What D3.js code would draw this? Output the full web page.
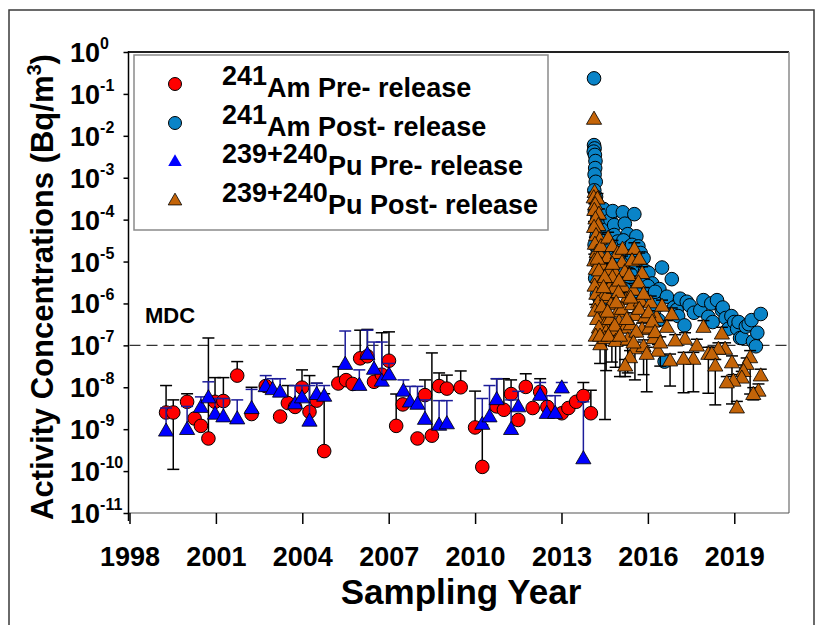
<!DOCTYPE html>
<html>
<head>
<meta charset="utf-8">
<script src="https://cdn.jsdelivr.net/npm/d3@7"></script>
<style>
  body { margin: 0; background: #fff; }
  svg text { font-family: "Liberation Sans", Arial, Helvetica, sans-serif; font-weight: bold; fill: #000; }
</style>
</head>
<body>
<svg id="chart" width="821" height="625"></svg>
<script>
// ---- data -------------------------------------------------------------
const yearTicks = [1998, 2001, 2004, 2007, 2010, 2013, 2016, 2019];
const decadeExponents = [0, -1, -2, -3, -4, -5, -6, -7, -8, -9, -10, -11];
const mdcValue = 1e-7;
const mdcLabel = "MDC";

const legendIsotopes = ["241", "241", "239+240", "239+240"];
const legendLabels = ["Am Pre- release", "Am Post- release", "Pu Pre- release", "Pu Post- release"];

// rows: [sampling year, activity (Bq/m3), lower error limit, upper error limit]
const amPre = [
  [1999.27, 2.5e-9, null, 1.1e-8],
  [1999.52, 2.5e-9, 1.1e-10, 5.0e-9],
  [2000.00, 4.5e-9, null, 7.0e-9],
  [2000.26, 1.8e-9, null, null],
  [2000.48, 1.2e-9, null, null],
  [2000.74, 6.0e-10, null, 1.5e-7],
  [2000.97, 4.5e-9, null, 1.7e-8],
  [2001.26, 4.7e-9, null, 1.7e-8],
  [2001.74, 1.9e-8, null, 4.1e-8],
  [2002.24, 2.3e-9, null, 1.0e-8],
  [2002.73, 1.07e-8, null, 1.25e-8],
  [2003.23, 2.0e-9, null, null],
  [2003.50, 4.2e-9, null, 1.1e-8],
  [2003.75, 3.4e-9, null, null],
  [2003.99, 9.8e-9, null, 2.6e-8],
  [2004.25, 2.6e-9, null, 1.9e-8],
  [2004.50, 4.8e-9, null, 1.25e-8],
  [2004.76, 3.0e-10, null, 7.0e-9],
  [2005.25, 1.23e-8, null, 3.1e-8],
  [2005.52, 1.48e-8, null, null],
  [2005.75, 1.2e-8, null, null],
  [2006.01, 4.9e-8, null, 2.3e-7],
  [2006.26, 5.5e-8, null, 2.4e-7],
  [2006.49, 1.35e-8, null, null],
  [2006.76, 2.0e-8, null, 2.0e-7],
  [2007.01, 4.3e-8, null, 2.1e-7],
  [2007.26, 1.2e-9, null, 6.9e-9],
  [2007.49, 3.9e-9, null, null],
  [2008.00, 6.0e-10, null, null],
  [2008.26, 6.5e-9, null, 1.5e-8],
  [2008.50, 7.0e-10, null, 6.6e-8],
  [2008.75, 1.07e-8, null, 2.2e-8],
  [2009.02, 9.3e-9, null, 1.95e-8],
  [2009.50, 1.0e-8, null, 2.45e-8],
  [2010.00, 1.1e-9, null, 8.1e-9],
  [2010.25, 1.26e-10, null, 1.26e-9],
  [2010.75, 3.5e-9, null, 1.6e-8],
  [2011.00, 2.9e-9, null, 1.6e-8],
  [2011.25, 6.9e-9, null, 1.5e-8],
  [2011.50, 1.66e-9, null, null],
  [2011.76, 1.02e-8, null, 2.1e-8],
  [2012.00, 3.2e-9, null, null],
  [2012.26, 7.8e-9, null, 1.6e-8],
  [2012.51, 3.4e-9, null, null],
  [2013.01, 2.4e-9, null, null],
  [2013.24, 3.2e-9, null, null],
  [2013.51, 4.5e-9, null, null],
  [2013.76, 6.2e-9, null, 1.3e-8],
  [2014.02, 2.4e-9, null, 8.5e-9]
];

const amPost = [
  [2014.13, 0.235, null, null],
  [2014.13, 6.0e-3, null, null],
  [2014.15, 5.0e-3, null, null],
  [2014.12, 4.2e-3, null, null],
  [2014.16, 3.5e-3, null, null],
  [2014.18, 2.5e-3, null, null],
  [2014.17, 1.7e-3, null, null],
  [2014.15, 1.2e-3, null, null],
  [2014.19, 8.0e-4, null, null],
  [2014.14, 5.0e-4, null, null],
  [2014.20, 3.5e-4, null, null],
  [2014.22, 2.5e-4, null, null],
  [2014.16, 1.6e-4, null, null],
  [2014.24, 1.0e-4, null, null],
  [2014.18, 6.0e-5, null, null],
  [2014.22, 4.0e-5, null, null],
  [2014.15, 2.5e-5, null, null],
  [2014.26, 1.6e-5, null, null],
  [2014.20, 1.0e-5, null, null],
  [2014.28, 6.0e-6, null, null],
  [2014.17, 4.0e-6, null, null],
  [2014.30, 2.5e-6, null, null],
  [2014.23, 1.6e-6, null, null],
  [2014.34, 1.0e-6, null, null],
  [2014.35, 1.2e-4, null, null],
  [2014.38, 1.5e-5, null, null],
  [2014.46, 1.8e-4, null, null],
  [2014.40, 8.0e-5, null, null],
  [2014.50, 4.0e-5, null, null],
  [2014.45, 2.0e-5, null, null],
  [2014.55, 1.0e-5, null, null],
  [2014.42, 5.0e-6, null, null],
  [2014.50, 1.5e-6, null, null],
  [2014.60, 3.0e-6, null, null],
  [2014.60, 6.0e-5, null, null],
  [2014.65, 2.5e-5, null, null],
  [2014.62, 8.0e-6, null, null],
  [2014.70, 1.0e-4, null, null],
  [2014.68, 1.0e-5, null, null],
  [2014.72, 2.2e-6, null, null],
  [2014.78, 1.6e-4, null, null],
  [2014.83, 7.4e-5, null, null],
  [2014.83, 4.3e-5, null, null],
  [2014.70, 2.0e-5, null, null],
  [2014.80, 1.8e-5, null, null],
  [2014.90, 1.2e-5, null, null],
  [2014.75, 7.0e-6, null, null],
  [2014.85, 5.0e-6, null, null],
  [2014.95, 3.0e-5, null, null],
  [2014.95, 4.0e-6, null, null],
  [2015.05, 1.3e-5, null, null],
  [2015.13, 1.5e-4, null, null],
  [2015.20, 8.0e-5, null, null],
  [2015.30, 4.5e-5, null, null],
  [2015.15, 3.2e-5, null, null],
  [2015.35, 2.2e-5, null, null],
  [2015.05, 1.8e-5, null, null],
  [2015.25, 1.1e-5, null, null],
  [2015.10, 6.0e-6, null, null],
  [2015.30, 3.5e-6, null, null],
  [2015.20, 2.2e-6, null, null],
  [2015.53, 1.35e-4, null, null],
  [2015.60, 4.0e-5, null, null],
  [2015.45, 2.5e-5, null, null],
  [2015.67, 2.3e-5, null, null],
  [2015.75, 1.6e-5, null, null],
  [2015.45, 1.4e-5, null, null],
  [2015.55, 9.0e-6, null, null],
  [2015.60, 8.0e-6, null, null],
  [2015.40, 5.0e-6, null, null],
  [2015.95, 4.0e-6, null, null],
  [2015.75, 3.0e-6, null, null],
  [2015.65, 1.5e-6, null, null],
  [2015.85, 1.2e-5, null, null],
  [2015.90, 6.0e-6, null, null],
  [2015.80, 2.0e-6, null, null],
  [2016.02, 5.4e-6, null, null],
  [2016.15, 3.0e-6, null, null],
  [2016.00, 2.6e-6, null, null],
  [2016.40, 2.2e-6, null, null],
  [2016.10, 1.4e-6, null, null],
  [2016.30, 1.0e-6, null, null],
  [2016.20, 6.0e-7, null, null],
  [2016.25, 1.9e-6, null, null],
  [2016.37, 4.0e-7, null, null],
  [2016.49, 7.2e-6, null, null],
  [2016.58, 4.1e-8, null, null],
  [2016.66, 1.45e-6, null, null],
  [2016.83, 3.8e-6, null, null],
  [2016.90, 8.0e-7, null, null],
  [2017.00, 7.0e-7, null, null],
  [2017.05, 5.0e-7, null, null],
  [2017.12, 1.3e-6, null, null],
  [2017.27, 3.0e-7, null, null],
  [2017.35, 1.1e-6, null, null],
  [2017.45, 9.0e-7, null, null],
  [2017.60, 6.0e-7, null, null],
  [2017.82, 6.9e-7, null, null],
  [2017.93, 1.2e-6, null, null],
  [2018.10, 4.8e-7, null, null],
  [2018.20, 1.0e-6, null, null],
  [2018.25, 3.6e-7, null, null],
  [2018.40, 1.2e-6, null, null],
  [2018.57, 6.9e-7, null, null],
  [2018.60, 8.0e-7, null, null],
  [2018.70, 4.5e-7, null, null],
  [2018.80, 2.5e-7, null, null],
  [2018.90, 5.0e-7, null, null],
  [2019.00, 3.6e-7, null, null],
  [2019.10, 2.5e-7, null, null],
  [2019.15, 3.6e-7, null, null],
  [2019.20, 1.5e-7, null, null],
  [2019.27, 1.5e-7, null, null],
  [2019.40, 2.8e-7, null, null],
  [2019.50, 3.2e-7, null, null],
  [2019.60, 4.0e-7, null, null],
  [2019.65, 1.25e-7, null, null],
  [2019.75, 9.5e-8, null, null],
  [2019.80, 2.0e-7, null, null],
  [2019.92, 5.6e-7, null, null]
];

const puPre = [
  [1999.27, 8.7e-10, null, 3.2e-9],
  [2000.00, 9.5e-10, null, 3.5e-9],
  [2000.48, 3.2e-9, null, 5.9e-9],
  [2000.74, 5.4e-9, null, 1.35e-8],
  [2000.97, 2.2e-9, null, 5.4e-9],
  [2001.26, 1.9e-9, null, 5.4e-9],
  [2001.74, 1.7e-9, null, 5.0e-9],
  [2002.24, 3.0e-9, null, 8.9e-9],
  [2002.73, 1.0e-8, null, 1.9e-8],
  [2002.97, 8.5e-9, null, 1.6e-8],
  [2003.23, 7.4e-9, null, 1.6e-8],
  [2003.75, 3.9e-9, null, 1.1e-8],
  [2003.99, 5.4e-9, null, 1.1e-8],
  [2004.25, 1.5e-9, null, 1.1e-8],
  [2004.50, 6.5e-9, null, 1.25e-8],
  [2004.76, 5.9e-9, null, 1.1e-8],
  [2005.49, 3.4e-8, null, 2.2e-7],
  [2005.98, 1.07e-8, null, 2.6e-8],
  [2006.26, 5.9e-8, null, 2.3e-7],
  [2006.49, 2.6e-8, null, 1.2e-7],
  [2006.76, 1.35e-8, null, 1.2e-7],
  [2007.01, 1.9e-8, null, 3.7e-8],
  [2007.51, 7.8e-9, null, 1.5e-8],
  [2007.74, 4.3e-9, null, 1.05e-8],
  [2008.00, 3.8e-9, null, 1.05e-8],
  [2008.26, 1.66e-9, null, 5.0e-9],
  [2008.75, 1.2e-9, null, 4.8e-9],
  [2009.02, 1.3e-9, null, 4.8e-9],
  [2010.25, 1.26e-9, null, 5.4e-9],
  [2010.50, 1.9e-9, null, 1.1e-8],
  [2010.75, 4.9e-9, null, 1.6e-8],
  [2011.25, 9.5e-10, null, 5.0e-9],
  [2011.50, 3.3e-9, null, 8.0e-9],
  [2012.26, 6.2e-9, null, 1.3e-8],
  [2012.49, 2.3e-9, null, 6.3e-9],
  [2012.78, 2.3e-9, null, 6.3e-9],
  [2013.01, 9.3e-9, null, 1.3e-8],
  [2013.76, 1.9e-10, null, 4.5e-9]
];

const puPost = [
  [2014.13, 0.024, null, null],
  [2014.15, 4.3e-4, null, null],
  [2014.12, 3.2e-4, null, 4.5e-4],
  [2014.25, 3.0e-4, null, 4.2e-4],
  [2014.17, 2.2e-4, null, null],
  [2014.14, 1.6e-4, null, 2.4e-4],
  [2014.30, 1.3e-4, null, 1.8e-4],
  [2014.18, 1.0e-4, null, null],
  [2014.28, 7.0e-5, null, 1.0e-4],
  [2014.13, 6.3e-5, null, 9.0e-5],
  [2014.20, 4.0e-5, null, null],
  [2014.33, 3.2e-5, null, 4.5e-5],
  [2014.16, 2.5e-5, null, 3.8e-5],
  [2014.22, 1.6e-5, null, null],
  [2014.36, 1.3e-5, null, 1.9e-5],
  [2014.14, 1.0e-5, null, 1.5e-5],
  [2014.40, 8.0e-6, null, 1.2e-5],
  [2014.19, 6.3e-6, null, null],
  [2014.25, 4.0e-6, null, 6.0e-6],
  [2014.38, 3.0e-6, null, 4.4e-6],
  [2014.15, 2.5e-6, null, null],
  [2014.21, 1.6e-6, null, 2.4e-6],
  [2014.42, 1.3e-6, null, 1.9e-6],
  [2014.27, 1.0e-6, null, null],
  [2014.17, 6.3e-7, null, 9.5e-7],
  [2014.45, 5.0e-7, null, 7.5e-7],
  [2014.24, 4.0e-7, null, null],
  [2014.50, 3.0e-7, null, 4.5e-7],
  [2014.30, 2.5e-7, null, 3.8e-7],
  [2014.55, 2.0e-7, 2.5e-8, 3.0e-7],
  [2014.19, 1.6e-7, null, null],
  [2014.35, 1.0e-7, null, 1.5e-7],
  [2014.51, 1.4e-7, 1.7e-9, 2.2e-7],
  [2014.37, 2.2e-5, null, null],
  [2014.62, 3.5e-5, null, 5.0e-5],
  [2014.60, 1.2e-5, null, 1.8e-5],
  [2014.65, 6.0e-6, null, 9.0e-6],
  [2014.70, 2.5e-6, null, 3.7e-6],
  [2014.58, 1.5e-6, null, 2.2e-6],
  [2014.72, 9.0e-7, null, 1.35e-6],
  [2014.68, 4.0e-7, null, 6.0e-7],
  [2014.75, 2.2e-7, 4.0e-8, 3.3e-7],
  [2014.77, 2.2e-5, null, 3.2e-5],
  [2014.95, 1.5e-5, null, 2.2e-5],
  [2014.88, 5.0e-6, null, 7.5e-6],
  [2014.82, 2.2e-6, null, 3.3e-6],
  [2014.95, 6.0e-7, null, 9.0e-7],
  [2015.00, 3.5e-7, null, 5.2e-7],
  [2014.88, 1.2e-7, 3.0e-8, 1.8e-7],
  [2015.12, 1.9e-5, null, null],
  [2015.10, 9.0e-6, null, 1.35e-5],
  [2015.20, 5.5e-6, null, 8.0e-6],
  [2015.15, 2.4e-6, null, 3.6e-6],
  [2015.25, 1.2e-6, null, 1.8e-6],
  [2015.10, 7.0e-7, null, 1.05e-6],
  [2015.20, 2.5e-7, null, 3.8e-7],
  [2015.30, 1.3e-7, 2.2e-8, 2.0e-7],
  [2015.53, 1.9e-5, null, 2.8e-5],
  [2015.45, 1.0e-5, null, 1.5e-5],
  [2015.35, 4.5e-6, null, 6.7e-6],
  [2015.50, 2.0e-6, null, 3.0e-6],
  [2015.45, 9.0e-7, null, 1.35e-6],
  [2015.55, 5.0e-7, null, 7.5e-7],
  [2015.40, 3.0e-7, null, 4.5e-7],
  [2015.55, 8.0e-8, 1.5e-8, 1.2e-7],
  [2015.70, 1.1e-5, null, 1.6e-5],
  [2015.80, 5.0e-6, null, 7.5e-6],
  [2015.75, 1.1e-6, null, 1.6e-6],
  [2015.90, 4.5e-7, null, 6.7e-7],
  [2015.80, 2.3e-7, null, 3.4e-7],
  [2015.85, 9.0e-8, 2.0e-8, 1.35e-7],
  [2016.10, 1.0e-6, null, 1.5e-6],
  [2016.30, 4.5e-7, null, 6.7e-7],
  [2016.05, 2.5e-7, null, 3.7e-7],
  [2016.20, 1.4e-7, null, 2.1e-7],
  [2016.35, 7.0e-8, null, 1.05e-7],
  [2014.25, 1.1e-5, null, null],
  [2014.77, 8.3e-6, null, 1.2e-5],
  [2014.30, 5.8e-6, null, null],
  [2014.77, 4.0e-6, null, 6.0e-6],
  [2014.50, 4.0e-6, null, null],
  [2015.00, 3.3e-6, null, 5.0e-6],
  [2015.67, 3.0e-6, null, 4.5e-6],
  [2014.46, 2.3e-6, null, null],
  [2014.98, 1.75e-6, null, 2.6e-6],
  [2015.85, 1.6e-6, null, 2.4e-6],
  [2015.40, 1.3e-6, null, null],
  [2014.90, 1.0e-6, null, 1.5e-6],
  [2014.40, 8.0e-7, null, null],
  [2016.49, 8.3e-7, null, 1.2e-6],
  [2015.70, 7.0e-7, null, null],
  [2014.60, 6.0e-7, null, 9.0e-7],
  [2016.02, 5.8e-7, null, 8.5e-7],
  [2016.83, 5.2e-7, null, 7.8e-7],
  [2015.27, 4.0e-7, null, 6.0e-7],
  [2016.15, 3.5e-7, null, null],
  [2014.85, 2.8e-7, null, 4.2e-7],
  [2016.66, 2.6e-7, null, 3.9e-7],
  [2017.93, 2.6e-7, null, 3.9e-7],
  [2015.60, 2.0e-7, null, null],
  [2016.25, 1.95e-7, null, 2.9e-7],
  [2018.57, 1.8e-7, null, 2.7e-7],
  [2014.34, 1.6e-7, 3.7e-8, 2.4e-7],
  [2014.63, 1.6e-7, null, 2.4e-7],
  [2015.03, 1.6e-7, 1.8e-8, 2.4e-7],
  [2017.29, 1.35e-7, null, 2.0e-7],
  [2016.95, 1.23e-7, null, 1.8e-7],
  [2015.50, 1.1e-7, null, 1.6e-7],
  [2016.43, 1.1e-7, 3.2e-8, 1.6e-7],
  [2017.70, 9.3e-8, null, 1.4e-7],
  [2018.68, 7.8e-8, null, 1.15e-7],
  [2018.45, 7.8e-8, null, 1.15e-7],
  [2015.96, 5.9e-8, 7.8e-9, 9.0e-8],
  [2018.10, 5.9e-8, 7.2e-9, 9.0e-8],
  [2018.22, 5.9e-8, null, 9.0e-8],
  [2015.38, 4.9e-8, null, 7.5e-8],
  [2019.55, 4.9e-8, 6.9e-9, 7.5e-8],
  [2017.58, 4.5e-8, 7.8e-9, 6.8e-8],
  [2017.24, 4.5e-8, 7.4e-9, 6.8e-8],
  [2016.77, 4.1e-8, 1.07e-8, 6.2e-8],
  [2018.92, 3.7e-8, 4.0e-9, 5.6e-8],
  [2019.43, 3.4e-8, null, 5.0e-8],
  [2015.21, 3.1e-8, 1.8e-8, 4.6e-8],
  [2018.34, 3.1e-8, 3.8e-9, 4.6e-8],
  [2019.32, 2.3e-8, null, 3.4e-8],
  [2019.92, 1.8e-8, null, 2.7e-8],
  [2019.26, 1.6e-8, null, 2.4e-8],
  [2018.97, 1.35e-8, null, 2.0e-8],
  [2018.74, 1.23e-8, null, 1.8e-8],
  [2019.84, 7.8e-9, null, 1.2e-8],
  [2019.66, 6.5e-9, 5.0e-9, 9.8e-9],
  [2019.09, 3.1e-9, null, 4.6e-9]
];

// ---- layout -----------------------------------------------------------
const svg = d3.select("#chart");
const plotL = 129.5, plotR = 789, plotT = 52, plotB = 513;

const x = d3.scaleLinear().domain([1998, 2020.9]).range([plotL, plotR]);
const y = d3.scaleLog().domain([1e-11, 1]).range([plotB, plotT]);

// outer border of the figure
svg.append("path")
  .attr("d", "M9,640 V10 H814 V640")
  .attr("fill", "none").attr("stroke", "#3a3a3a").attr("stroke-width", 1.5);

// plot frame
svg.append("line").attr("x1", plotL - 1).attr("x2", plotR).attr("y1", plotT).attr("y2", plotT)
  .attr("stroke", "#222").attr("stroke-width", 2);
svg.append("line").attr("x1", plotR).attr("x2", plotR).attr("y1", plotT).attr("y2", plotB)
  .attr("stroke", "#8a8a8a").attr("stroke-width", 1.5);
svg.append("line").attr("x1", plotL - 1).attr("x2", plotR).attr("y1", plotB).attr("y2", plotB)
  .attr("stroke", "#555").attr("stroke-width", 1.2);
svg.append("line").attr("x1", plotL - 1).attr("x2", plotL - 1).attr("y1", plotT - 1).attr("y2", plotB + 8)
  .attr("stroke", "#000").attr("stroke-width", 1.5);

// x axis
const xAxis = svg.append("g").attr("transform", `translate(0,${plotB})`)
  .call(d3.axisBottom(x).tickValues(yearTicks).tickSize(11).tickFormat(d3.format("d")));
xAxis.select(".domain").remove();
xAxis.selectAll(".tick line").attr("stroke", "#000").attr("stroke-width", 1.5);
xAxis.selectAll(".tick text").attr("y", 53).attr("dy", 0)
  .style("font-size", "27px").style("font-family", '"Liberation Sans", Arial, sans-serif')
  .style("font-weight", "bold").attr("fill", "#000");

// y axis ticks and decade labels
const yAxis = svg.append("g").attr("transform", `translate(${plotL - 1},0)`)
  .call(d3.axisLeft(y).tickValues(decadeExponents.map(e => Math.pow(10, e))).tickSize(5).tickFormat(""));
yAxis.select(".domain").remove();
yAxis.selectAll(".tick line").attr("stroke", "#000").attr("stroke-width", 1.5);

const yLabels = svg.append("g");
decadeExponents.forEach(e => {
  const t = yLabels.append("text").attr("x", 70).attr("y", y(Math.pow(10, e)) + 10)
    .style("font-size", "27px");
  t.append("tspan").text("10");
  t.append("tspan").attr("dy", -13).style("font-size", "16px").text(e);
});

// axis titles
svg.append("text").attr("x", 461).attr("y", 604).attr("text-anchor", "middle")
  .style("font-size", "35px").text("Sampling Year");

const yTitle = svg.append("text")
  .attr("transform", "translate(53,287) rotate(-90)")
  .attr("text-anchor", "middle").style("font-size", "31px");
yTitle.append("tspan").text("Activity Concentrations (Bq/m");
yTitle.append("tspan").attr("dy", -12).style("font-size", "20px").text("3");
yTitle.append("tspan").attr("dy", 12).text(")");

// detection limit
svg.append("line").attr("x1", plotL).attr("x2", plotR).attr("y1", y(mdcValue)).attr("y2", y(mdcValue))
  .attr("stroke", "#333").attr("stroke-width", 1.2).attr("stroke-dasharray", "11,6");
svg.append("text").attr("x", 145).attr("y", 323).style("font-size", "22px").text(mdcLabel);

// ---- marks ------------------------------------------------------------
const plot = svg.append("g");
const capW = 6;

function errorBars(data, color) {
  const g = plot.append("g").attr("stroke", color).attr("stroke-width", 1.5).attr("fill", "none");
  data.forEach(d => {
    const [yr, v, lo, hi] = d;
    if (lo == null && hi == null) return;
    const cx = x(yr);
    const y0 = y(lo != null ? lo : v), y1 = y(hi != null ? hi : v);
    g.append("line").attr("x1", cx).attr("x2", cx).attr("y1", y0).attr("y2", y1);
    if (lo != null) g.append("line").attr("x1", cx - capW).attr("x2", cx + capW).attr("y1", y0).attr("y2", y0);
    if (hi != null) g.append("line").attr("x1", cx - capW).attr("x2", cx + capW).attr("y1", y1).attr("y2", y1);
  });
}

function circles(data, fill) {
  plot.append("g").selectAll("circle").data(data).join("circle")
    .attr("cx", d => x(d[0])).attr("cy", d => y(d[1])).attr("r", 6.8)
    .attr("fill", fill).attr("stroke", "#000").attr("stroke-width", 1);
}

const tri = d3.symbol().type(d3.symbolTriangle).size(100);
function triangles(data, fill) {
  plot.append("g").selectAll("path").data(data).join("path")
    .attr("d", tri).attr("transform", d => `translate(${x(d[0])},${y(d[1])})`)
    .attr("fill", fill).attr("stroke", "#000").attr("stroke-width", 0.8);
}

const colors = { amPre: "#ff0000", amPost: "#0a84c8", puPre: "#0000ff", puPost: "#c46408" };

errorBars(amPre, "#000");
circles(amPre, colors.amPre);
errorBars(amPost, "#000");
circles(amPost, colors.amPost);
errorBars(puPre, "#1c1c9a");
triangles(puPre, colors.puPre);
errorBars(puPost, "#000");
triangles(puPost, colors.puPost);

// ---- legend -----------------------------------------------------------
const legend = svg.append("g");
legend.append("rect").attr("x", 134).attr("y", 55).attr("width", 414).attr("height", 175)
  .attr("fill", "#fff").attr("stroke", "#8a8a8a").attr("stroke-width", 1.5);

const legendFills = [colors.amPre, colors.amPost, colors.puPre, colors.puPost];
const legendRows = [84, 123, 162, 201];
legendRows.forEach((cy, i) => {
  if (i < 2) {
    legend.append("circle").attr("cx", 175).attr("cy", cy).attr("r", 6.5)
      .attr("fill", legendFills[i]).attr("stroke", "#000").attr("stroke-width", 1);
  } else {
    legend.append("path").attr("d", d3.symbol().type(d3.symbolTriangle).size(80)())
      .attr("transform", `translate(175,${cy})`)
      .attr("fill", legendFills[i]).attr("stroke", i === 3 ? "#000" : "none").attr("stroke-width", 0.8);
  }
  const t = legend.append("text").attr("x", 222).attr("y", cy + 1).style("font-size", "27px");
  t.append("tspan").text(legendIsotopes[i]);
  t.append("tspan").attr("dy", 12).text(legendLabels[i]);
});
</script>
</body>
</html>
